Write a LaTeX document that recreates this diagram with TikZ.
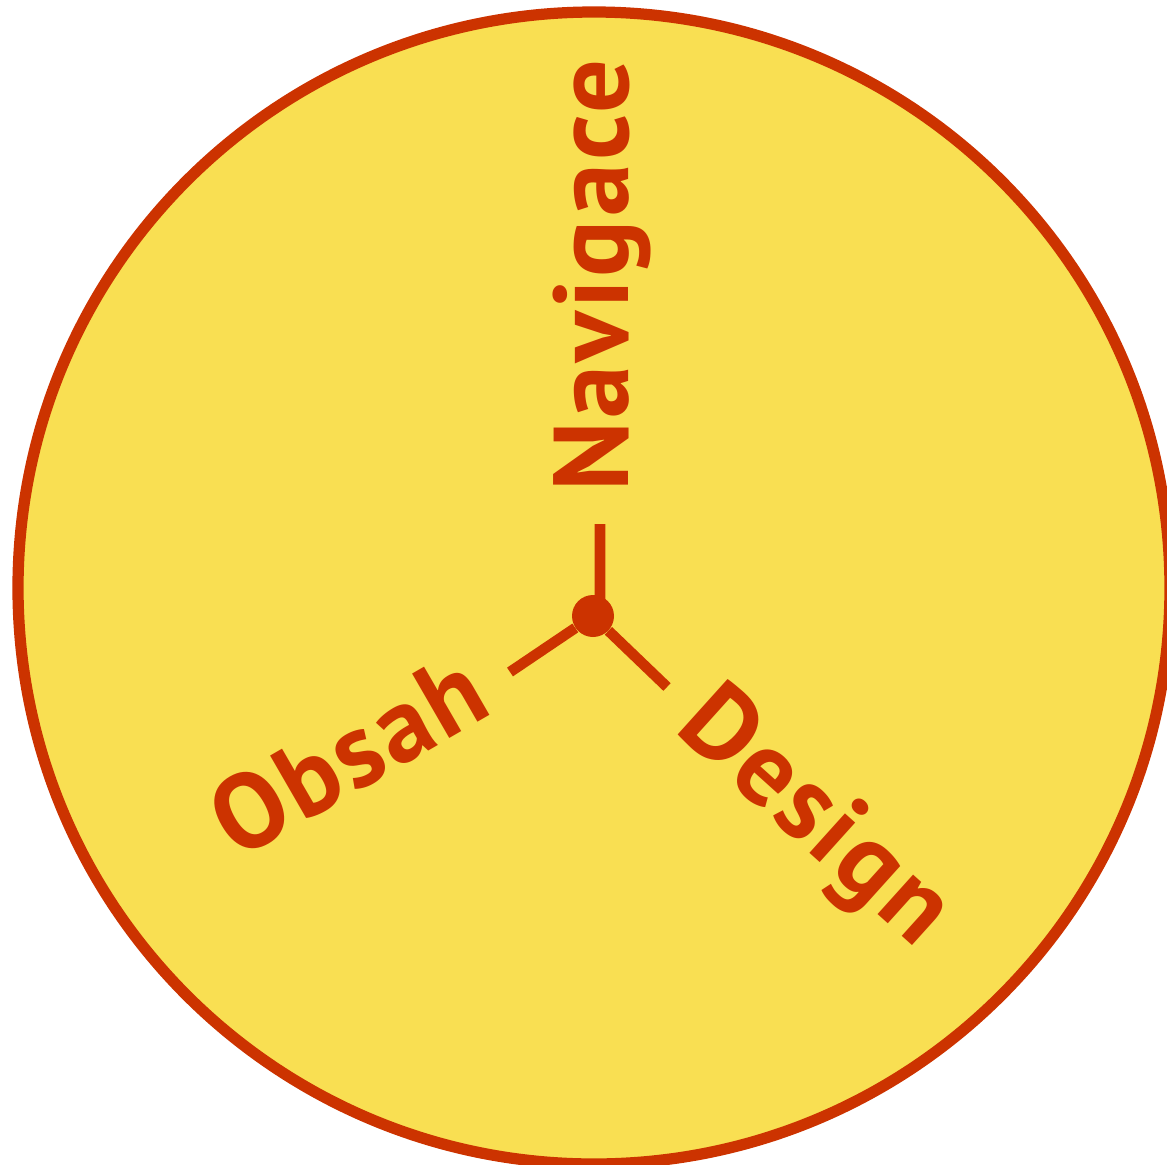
\documentclass[tikz,border=0pt]{standalone}
\usepackage{fontspec}
\setmainfont{PT Sans}[LetterSpace=3]
\definecolor{sun}{HTML}{F9DF52}
\definecolor{rust}{HTML}{CC3300}

\begin{document}
\begin{tikzpicture}[x=0.02cm,y=-0.02cm,
  rim/.style={draw=rust,fill=sun,line width=6.4pt},
  hubdot/.style={circle,fill=rust,inner sep=0pt,minimum size=0.84cm},
  spoke/.style={draw=rust,line width=6pt},
  lbl/.style={text=rust,font=\fontsize{60.5}{60}\selectfont\bfseries,inner sep=0pt}]
\useasboundingbox (0,0) rectangle (1167,1164);
\draw[rim] (594,588) circle[radius=576];
\node[hubdot] (hub) at (593,616) {};
\coordinate (navEnd) at (600,524);
\coordinate (obsEnd) at (510,672);
\coordinate (desEnd) at (667,687);
\draw[spoke] ([xshift=0.14cm]hub.center) -- (navEnd);
\draw[spoke] (hub) -- (obsEnd);
\draw[spoke] (hub) -- (desEnd);
\node[lbl,rotate=90,anchor=base west] (nav) at (628,492) {Navigace};
\node[lbl,rotate=30,anchor=base east] (obsah) at (495,712) {Obsah};
\node[lbl,rotate=-42,anchor=base west] (design) at (673,730) {Design};
\end{tikzpicture}
\end{document}
